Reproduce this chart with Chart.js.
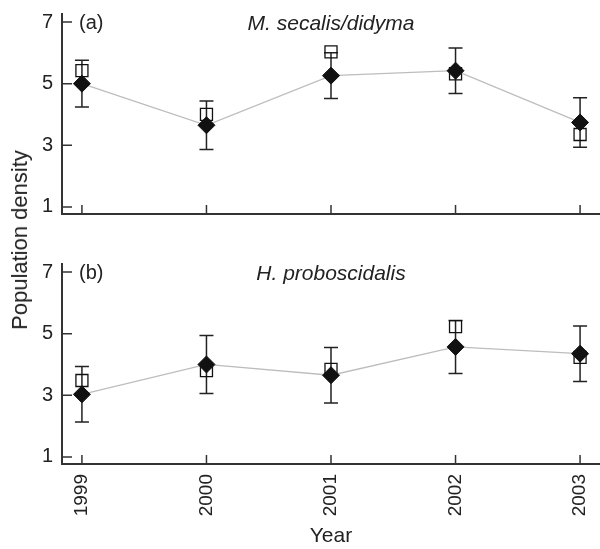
<!DOCTYPE html>
<html>
<head>
<meta charset="utf-8">
<script src="https://cdn.jsdelivr.net/npm/chart.js@4.4.1/dist/chart.umd.min.js"></script>
<style>
  body { margin: 0; background: #fff; }
  #wrap { position: relative; width: 600px; height: 549px; overflow: hidden; }
  #wrap canvas { position: absolute; left: 0; }
  #ytitle {
    position: absolute; left: 20px; top: 240px;
    transform: translate(-50%, -50%) rotate(-90deg);
    font: 22px "Liberation Sans", Arial, sans-serif; color: #222; white-space: nowrap;
  }
</style>
</head>
<body>
<div id="wrap">
  <canvas id="chartA" width="600" height="230" style="top:0"></canvas>
  <canvas id="chartB" width="600" height="299" style="top:250px"></canvas>
  <div id="ytitle">Population density</div>
</div>
<script>
// values
const years = [1999, 2000, 2001, 2002, 2003];
const yTicks = [1, 3, 5, 7];

const meansA = [5.0, 3.65, 5.26, 5.42, 3.74];
const errA = [0.76, 0.79, 0.74, 0.74, 0.80];
const squaresA = [5.42, 4.0, 6.03, 5.32, 3.35];

const meansB = [3.03, 4.0, 3.65, 4.57, 4.35];
const errB = [0.9, 0.94, 0.9, 0.86, 0.9];
const squaresB = [3.48, 3.8, 3.84, 5.23, 4.23];

const FONT = "'Liberation Sans', Arial, sans-serif";
const INK = '#222';

// inward tick marks + error bars + panel labels
const panelPlugin = {
  id: 'panel',
  beforeDatasetsDraw(chart) {
    const ctx = chart.ctx;
    const xs = chart.scales.x, ys = chart.scales.y;
    const o = chart.options.plugins.panel;
    ctx.save();
    ctx.strokeStyle = INK;
    ctx.lineWidth = 1.5;
    o.means.forEach((m, i) => {
      const px = xs.getPixelForValue(years[i]);
      const top = ys.getPixelForValue(m + o.errs[i]);
      const bot = ys.getPixelForValue(m - o.errs[i]);
      ctx.beginPath();
      ctx.moveTo(px, top); ctx.lineTo(px, bot);
      ctx.moveTo(px - 7, top); ctx.lineTo(px + 7, top);
      ctx.moveTo(px - 7, bot); ctx.lineTo(px + 7, bot);
      ctx.stroke();
    });
    ctx.restore();
  },
  afterDraw(chart) {
    const ctx = chart.ctx;
    const xs = chart.scales.x, ys = chart.scales.y;
    const area = chart.chartArea;
    const o = chart.options.plugins.panel;
    ctx.save();
    ctx.strokeStyle = '#333';
    ctx.lineWidth = 1.5;
    ctx.beginPath();
    yTicks.forEach(v => {
      const py = ys.getPixelForValue(v);
      ctx.moveTo(area.left, py); ctx.lineTo(area.left + 10, py);
    });
    years.forEach(v => {
      const px = xs.getPixelForValue(v);
      ctx.moveTo(px, area.bottom); ctx.lineTo(px, area.bottom - 9);
    });
    ctx.stroke();

    ctx.fillStyle = INK;
    ctx.textBaseline = 'middle';
    ctx.font = '20px ' + FONT;
    ctx.textAlign = 'left';
    ctx.fillText(o.tag, area.left + 17, ys.getPixelForValue(7) + 1);
    ctx.font = 'italic 21px ' + FONT;
    ctx.textAlign = 'center';
    ctx.fillText(o.species, xs.getPixelForValue(2001), ys.getPixelForValue(7) + 2);
    ctx.restore();
  }
};

function makePanel(id, means, errs, squares, tag, species, showX) {
  const xHeight = showX ? 85 : 16;
  return new Chart(document.getElementById(id), {
    type: 'line',
    data: {
      datasets: [{
        data: years.map((y, i) => ({ x: y, y: means[i] })),
        borderColor: '#bdbdbd',
        borderWidth: 1.3,
        pointStyle: 'rectRot',
        pointRadius: 8.5,
        pointBackgroundColor: '#111',
        pointBorderColor: '#111',
        pointBorderWidth: 1
      }, {
        data: years.map((y, i) => ({ x: y, y: squares[i] })),
        showLine: false,
        pointStyle: 'rect',
        pointRadius: 8.5,
        pointBackgroundColor: 'rgba(0,0,0,0)',
        pointBorderColor: '#111',
        pointBorderWidth: 1.3
      }]
    },
    options: {
      responsive: false,
      animation: false,
      layout: { autoPadding: false, padding: { top: 14, right: 0, left: 0, bottom: 0 } },
      plugins: {
        legend: { display: false },
        tooltip: { enabled: false },
        panel: { means: means, errs: errs, tag: tag, species: species }
      },
      scales: {
        x: {
          type: 'linear',
          min: 1998.84,
          max: 2003.16,
          afterBuildTicks: s => { s.ticks = years.map(v => ({ value: v })); },
          afterFit: s => { s.height = xHeight; s.paddingLeft = 0; s.paddingRight = 0; },
          grid: { display: false, drawTicks: false },
          border: { display: true, color: '#333', width: 2 },
          ticks: {
            display: showX,
            padding: 10,
            minRotation: 90,
            maxRotation: 90,
            color: INK,
            font: { family: FONT, size: 19 },
            callback: v => String(v)
          },
          title: {
            display: showX,
            text: 'Year',
            color: INK,
            padding: { top: 0, bottom: 0 },
            font: { family: FONT, size: 21 }
          }
        },
        y: {
          min: 0.77,
          max: 7.26,
          afterBuildTicks: s => { s.ticks = yTicks.map(v => ({ value: v })); },
          afterFit: s => { s.width = 62; s.paddingTop = 0; s.paddingBottom = 0; },
          grid: { display: false, drawTicks: false },
          border: { display: true, color: '#333', width: 2 },
          ticks: {
            padding: 9,
            color: INK,
            font: { family: FONT, size: 20 }
          }
        }
      }
    },
    plugins: [panelPlugin]
  });
}

makePanel('chartA', meansA, errA, squaresA, '(a)', 'M. secalis/didyma', false);
makePanel('chartB', meansB, errB, squaresB, '(b)', 'H. proboscidalis', true);
</script>
</body>
</html>
